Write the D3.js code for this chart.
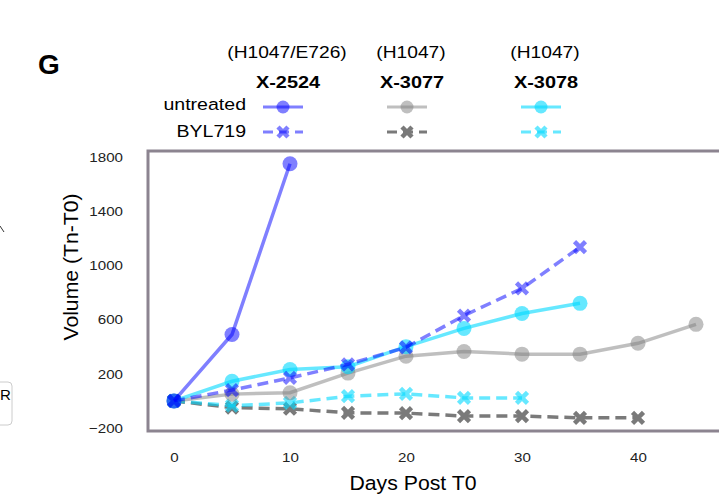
<!DOCTYPE html>
<html>
<head>
<meta charset="utf-8">
<script src="https://d3js.org/d3.v7.min.js"></script>
<style>
  body { margin: 0; background: #fff; }
  text { font-family: "Liberation Sans", Arial, sans-serif; }
</style>
</head>
<body>
<svg id="chart" width="719" height="494"></svg>
<script>
// data
var models = ["X-2524", "X-3077", "X-3078"];
var mutations = ["(H1047/E726)", "(H1047)", "(H1047)"];
var treatments = ["untreated", "BYL719"];
var xTicks = [0, 10, 20, 30, 40];
var yTicks = [-200, 200, 600, 1000, 1400, 1800];

var days2524u = [0, 5, 10];
var vol2524u = [0, 490, 1750];
var days2524b = [0, 5, 10, 15, 20, 25, 30, 35];
var vol2524b = [0, 80, 170, 270, 395, 630, 830, 1135];

var days3077u = [0, 5, 10, 15, 20, 25, 30, 35, 40, 45];
var vol3077u = [0, 50, 60, 205, 330, 365, 345, 345, 425, 565];
var days3077b = [0, 5, 10, 15, 20, 25, 30, 35, 40];
var vol3077b = [0, -50, -58, -88, -90, -112, -112, -125, -125];

var days3078u = [0, 5, 10, 15, 20, 25, 30, 35];
var vol3078u = [0, 145, 232, 252, 400, 535, 645, 720];
var days3078b = [0, 5, 10, 15, 20, 25, 30];
var vol3078b = [0, -35, -15, 35, 52, 22, 22];

var series = [
  {days: days3077b, vol: vol3077b, color: "#7a7a7a", op: 1, dash: true},
  {days: days3078b, vol: vol3078b, color: "#00d8ff", op: 0.6, dash: true},
  {days: days3077u, vol: vol3077u, color: "#808080", op: 0.5, dash: false},
  {days: days3078u, vol: vol3078u, color: "#00d8ff", op: 0.6, dash: false},
  {days: days2524b, vol: vol2524b, color: "#0000ff", op: 0.5, dash: true},
  {days: days2524u, vol: vol2524u, color: "#0000ff", op: 0.5, dash: false}
];

var svg = d3.select("#chart");

var x = d3.scaleLinear().domain([0, 40]).range([174, 638]);
var y = d3.scaleLinear().domain([-200, 1800]).range([428, 157]);

// text placed with a slight horizontal stretch, like the reference
function label(px, py, str, size, anchor, sx, bold) {
  var t = svg.append("text")
    .attr("transform", "translate(" + px + "," + py + ") scale(" + sx + ",1)")
    .attr("text-anchor", anchor)
    .attr("font-size", size)
    .text(str);
  if (bold) t.attr("font-weight", "bold");
  return t;
}

// frame
svg.append("rect")
  .attr("x", 148).attr("y", 151)
  .attr("width", 620).attr("height", 280)
  .attr("fill", "none")
  .attr("stroke", "#8c8490")
  .attr("stroke-width", 3);

// axes without tick lines
var yAxis = d3.axisLeft(y).tickValues(yTicks).tickSize(0).tickPadding(0)
  .tickFormat(function(d){ return d < 0 ? "\u2212" + Math.abs(d) : d; });
var gy = svg.append("g").attr("transform", "translate(123,0)").call(yAxis);
gy.select(".domain").remove();
gy.selectAll("text").attr("font-size", 13.5).attr("fill", "#222")
  .attr("font-family", "Liberation Sans, Arial, sans-serif")
  .attr("transform", "scale(1.12,1)");

var xAxis = d3.axisBottom(x).tickValues(xTicks).tickSize(0).tickPadding(0);
var gx = svg.append("g").attr("transform", "translate(0,452)").call(xAxis);
gx.select(".domain").remove();
gx.selectAll("text").attr("font-size", 13.5).attr("fill", "#222")
  .attr("font-family", "Liberation Sans, Arial, sans-serif")
  .attr("transform", "scale(1.12,1)");

svg.append("text")
  .attr("transform", "translate(78,267) rotate(-90) scale(1.06,1)")
  .attr("text-anchor", "middle")
  .attr("font-size", 20)
  .text("Volume (Tn-T0)");

label(413, 490, "Days Post T0", 19.5, "middle", 1.09, false);

// lines and markers
var line = d3.line()
  .x(function(d){ return x(d[0]); })
  .y(function(d){ return y(d[1]); });

function xMark(g, cx, cy, r, color, op) {
  g.append("path")
    .attr("d", "M" + (cx - r) + "," + (cy - r) + "L" + (cx + r) + "," + (cy + r) +
               "M" + (cx - r) + "," + (cy + r) + "L" + (cx + r) + "," + (cy - r))
    .attr("stroke", color).attr("stroke-opacity", op)
    .attr("stroke-width", 4.5);
}

series.forEach(function(s) {
  var pts = s.days.map(function(d, i){ return [d, s.vol[i]]; });
  var g = svg.append("g");
  g.append("path")
    .attr("d", line(pts))
    .attr("fill", "none")
    .attr("stroke", s.color)
    .attr("stroke-opacity", s.op)
    .attr("stroke-width", 3.5)
    .attr("stroke-dasharray", s.dash ? "11,6" : null);
  pts.forEach(function(p) {
    if (s.dash) {
      xMark(g, x(p[0]), y(p[1]), 5.5, s.color, s.op);
    } else {
      g.append("circle")
        .attr("cx", x(p[0])).attr("cy", y(p[1])).attr("r", 7.5)
        .attr("fill", s.color).attr("fill-opacity", s.op);
    }
  });
});

// legend
var legX = [283, 407, 541];
var legColors = [["#0000ff", 0.5], ["#808080", 0.5], ["#00d8ff", 0.6]];
var legBylColors = [["#0000ff", 0.5], ["#7a7a7a", 1], ["#00d8ff", 0.6]];

label(38, 74, "G", 28, "start", 1, true);

models.forEach(function(m, i) {
  var cx = legX[i];
  label(cx + 4, 58, mutations[i], 16, "middle", 1.2, false);
  label(cx + 5, 88, m, 17, "middle", 1.17, true);

  var c = legColors[i];
  svg.append("line").attr("x1", cx - 20).attr("x2", cx + 20)
    .attr("y1", 107).attr("y2", 107)
    .attr("stroke", c[0]).attr("stroke-opacity", c[1]).attr("stroke-width", 3);
  svg.append("circle").attr("cx", cx).attr("cy", 107).attr("r", 6.5)
    .attr("fill", c[0]).attr("fill-opacity", c[1]);

  var b = legBylColors[i];
  svg.append("line").attr("x1", cx - 20).attr("x2", cx + 20)
    .attr("y1", 132).attr("y2", 132)
    .attr("stroke", b[0]).attr("stroke-opacity", b[1]).attr("stroke-width", 3)
    .attr("stroke-dasharray", "10,6");
  xMark(svg, cx, 132, 5, b[0], b[1]);
});

label(246, 110, treatments[0], 17, "end", 1.15, false);
label(246, 137, treatments[1], 17, "end", 1.15, false);

// fragments of neighbouring panels at the left edge
svg.append("path").attr("d", "M0,226L4,232").attr("stroke", "#333").attr("stroke-width", 1);
svg.append("rect").attr("x", -10).attr("y", 382).attr("width", 22).attr("height", 43)
  .attr("rx", 4).attr("fill", "none").attr("stroke", "#ccc");
svg.append("text").attr("x", 0).attr("y", 400).attr("font-size", 15).text("R");
</script>
</body>
</html>
